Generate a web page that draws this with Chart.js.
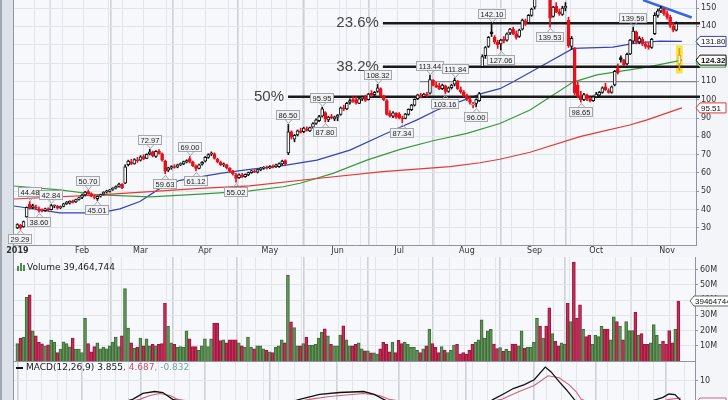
<!DOCTYPE html>
<html>
<head>
<meta charset="utf-8">
<script src="https://cdn.jsdelivr.net/npm/chart.js@4.4.1/dist/chart.umd.min.js"></script>
<style>
body{margin:0;width:728px;height:400px;overflow:hidden;position:relative;background:#f3f5f8}
#strip{position:absolute;left:0;top:0;width:14px;height:400px;background:#dde2ea;border-left:2px solid #a0a8b4;border-right:1px solid #8d96a3;box-sizing:border-box}
canvas{position:absolute;left:0}
#price{top:0}
#vol{top:257px}
#macd{top:362px}
</style>
</head>
<body>
<div id="strip"></div>
<canvas id="price" width="728" height="257"></canvas>
<canvas id="vol" width="728" height="105"></canvas>
<canvas id="macd" width="728" height="60"></canvas>
<script>
// daily bars, x = trading day index (0 = Jan 2 2019) ... [open, high, low, close]
const janBars = [[30.0,32.3,29.6,31.8],[31.5,32.0,29.29,30.0],[30.5,33.8,30.3,33.5],[36.0,41.5,35.8,41.3],[43.0,44.48,40.2,41.0],
  [41.2,43.0,40.5,42.2],[41.5,42.5,40.0,40.8],[40.5,41.5,38.6,39.6],[39.5,40.5,38.8,39.2],[39.5,40.8,39.0,40.5],
  [40.6,41.0,39.3,39.8],[40.0,42.84,39.8,42.2],[42.0,42.6,41.0,42.4],[41.8,42.3,40.3,40.8],[41.0,42.0,40.5,41.7],
  [41.8,43.5,41.5,43.2],[43.3,44.5,42.8,44.0],[43.5,44.8,43.0,44.6],[44.8,45.2,43.6,44.0],[44.2,45.8,44.0,45.5],[45.6,46.8,45.2,46.5]];
const febBars = [[46.6,48.5,46.0,48.0],[48.0,50.0,47.5,49.6],[49.8,50.70,48.3,48.6],[48.5,49.2,47.0,47.4],[47.0,47.8,45.8,46.6],
  [46.0,47.5,45.01,47.2],[47.3,48.5,46.8,48.2],[48.5,49.8,48.0,49.5],[49.6,50.6,49.0,50.2],[50.0,51.0,49.5,50.8],
  [51.0,52.0,50.5,51.7],[51.8,53.0,51.3,52.6],[52.7,54.5,52.3,54.0],[53.8,54.2,51.5,52.0],[54.5,64.5,54.2,63.3],
  [64.5,67.0,63.8,66.5],[66.0,67.5,64.5,65.2],[65.0,67.8,64.8,67.3],[67.0,68.5,65.8,66.6]];
const marBars = [[67.0,69.5,66.5,68.8],[69.0,70.0,67.2,67.8],[68.0,70.5,67.8,70.2],[70.5,72.97,69.8,71.5],[71.5,72.0,68.8,69.5],
  [69.0,72.2,68.5,71.8],[72.0,72.8,70.2,70.5],[70.5,71.0,66.5,67.0],[66.5,67.0,59.63,61.0],[61.5,63.2,60.8,62.8],
  [62.8,64.0,62.0,63.5],[63.5,64.5,62.6,63.0],[63.2,64.8,62.8,64.5],[64.6,65.5,64.0,65.0],[65.0,66.5,64.5,66.2],
  [66.0,67.2,65.5,66.8],[67.8,69.0,65.5,66.0],[66.0,66.5,63.5,64.0],[63.8,64.5,61.12,62.5],[62.5,64.8,62.2,64.5],[64.8,66.2,64.2,65.8]];
const aprBars = [[66.5,69.0,66.0,68.5],[68.5,70.5,68.0,70.0],[70.2,71.5,69.5,70.8],[70.5,71.0,67.5,68.0],[67.5,68.0,65.5,66.0],
  [66.0,66.5,64.0,64.6],[64.5,65.5,63.5,65.0],[64.5,64.8,62.2,62.8],[62.5,63.0,60.5,61.0],[61.0,61.5,58.8,59.5],
  [59.0,59.8,55.02,57.0],[57.5,59.5,57.0,59.0],[59.0,59.8,57.5,58.0],[58.0,59.5,57.6,59.2],[59.0,60.5,58.5,60.2],
  [60.2,61.5,59.8,61.2],[61.0,61.8,60.2,60.5],[60.5,62.0,60.0,61.8],[61.8,63.0,61.2,62.6],[62.6,63.5,62.0,63.0],[63.0,63.8,62.2,62.6]];
const mayBars = [[62.8,64.0,62.3,63.5],[63.5,64.5,62.8,63.2],[63.3,64.8,63.0,64.4],[63.5,65.5,63.0,65.2],[65.0,67.0,64.2,66.5],
  [66.8,67.2,64.5,65.0],[71.0,86.5,70.0,82.5],[82.5,83.0,78.5,79.5],[78.5,81.0,77.0,80.5],[80.8,83.5,80.2,83.0],
  [83.0,84.5,81.8,82.2],[82.5,85.0,82.0,84.5],[84.0,85.2,82.8,83.2],[83.0,85.0,82.5,84.8],[85.0,87.5,84.5,87.0],
  [87.0,89.5,86.5,89.0],[88.5,91.5,88.0,90.8],[91.0,95.95,90.5,95.0],[93.0,93.5,87.8,89.5],[89.0,91.0,88.0,90.5],
  [90.8,92.0,89.5,90.0],[89.5,91.0,88.5,90.6]];
const junBars = [[90.5,92.0,88.5,91.5],[92.0,96.0,91.5,95.5],[95.5,97.0,94.0,95.0],[95.0,98.5,94.5,98.0],[98.5,100.5,97.5,99.5],
  [100.0,101.5,98.5,99.0],[100.0,101.5,97.5,98.2],[98.0,101.0,97.8,100.5],[100.5,102.0,99.5,101.5],[101.5,102.5,99.0,99.6],
  [100.0,103.5,99.8,103.0],[103.5,105.0,101.5,102.5],[102.8,104.5,101.5,104.0],[104.5,108.32,104.0,106.5],[106.0,106.5,101.5,102.0],
  [102.0,102.5,99.5,100.0],[99.5,100.0,91.5,92.0],[92.5,94.0,90.5,91.0],[91.0,93.5,90.2,92.8],[92.5,93.0,89.8,90.5]];
const julBars = [[92.0,93.0,89.5,90.0],[90.0,91.0,87.34,89.5],[89.8,92.5,89.5,92.2],[92.0,95.0,91.5,94.8],[94.5,97.5,94.0,97.0],
  [97.0,100.5,96.5,100.2],[100.5,103.0,100.0,102.6],[102.5,103.5,101.0,101.6],[101.8,103.5,101.5,103.0],[103.0,104.0,101.8,102.3],
  [103.5,113.44,103.0,111.0],[110.5,111.0,107.5,108.0],[108.0,109.5,106.5,107.0],[107.5,109.0,105.5,106.0],[106.0,108.5,105.5,108.0],
  [107.5,108.0,103.16,104.5],[104.5,107.0,104.0,106.5],[106.5,108.5,105.8,108.0],[108.5,111.84,107.5,110.5],[110.0,110.5,105.5,106.0],
  [105.5,107.0,103.5,104.2],[104.0,105.0,101.5,102.0]];
const augBars = [[102.0,103.0,99.5,100.5],[100.0,101.5,97.5,98.5],[97.0,98.5,95.5,97.5],[98.0,100.5,96.0,100.0],[99.5,104.0,99.0,103.3],
  [118.0,124.5,117.5,123.5],[124.0,129.0,122.5,128.5],[129.0,134.5,128.5,134.0],[137.0,142.1,134.5,136.0],[134.0,135.0,130.5,131.5],
  [131.5,132.5,128.0,130.0],[130.5,133.0,127.06,132.5],[133.0,134.5,131.0,132.0],[132.5,136.5,132.0,136.0],[136.5,139.0,135.5,138.5],
  [138.5,139.5,135.5,136.0],[136.0,137.5,133.0,134.0],[134.5,138.5,134.0,138.0],[138.5,144.0,138.0,143.5],[143.0,144.0,140.5,141.5],
  [142.0,146.5,141.5,146.0],[146.0,150.0,145.5,149.5]];
const sepBars = [[150.5,156.0,149.5,155.0],[156.0,166.0,155.0,164.0],[165.0,175.0,160.0,161.0],[160.0,168.0,158.0,166.0],[165.0,166.0,156.0,158.0],
  [157.0,158.0,139.53,144.5],[145.5,151.0,145.0,150.5],[151.0,153.0,147.5,148.0],[148.0,149.5,146.0,147.0],[146.5,151.0,146.0,150.0],
  [150.0,153.0,148.5,151.0],[143.5,145.0,128.5,129.5],[129.0,134.5,127.5,133.5],[127.5,128.5,102.5,103.5],[108.0,109.5,101.0,102.0],
  [102.0,104.5,98.65,100.0],[100.0,103.5,99.5,102.8],[102.5,103.0,99.5,100.5],[100.5,101.5,98.8,99.5],[99.5,102.0,99.0,101.5]];
const octBars = [[101.5,104.0,101.0,103.0],[102.5,104.5,101.5,104.0],[104.0,107.0,103.5,106.5],[107.0,109.0,105.0,105.5],[105.0,106.0,103.5,104.0],
  [104.0,107.5,103.5,107.0],[108.0,116.0,107.5,115.5],[117.0,119.5,114.0,114.8],[123.0,124.0,120.5,121.8],[121.5,122.0,118.5,119.0],
  [119.5,125.5,119.0,124.8],[125.0,133.0,124.5,132.5],[132.0,139.59,131.0,137.5],[137.0,137.5,130.5,131.5],[131.5,134.5,130.5,133.5],
  [133.0,134.0,129.5,130.5],[130.5,131.5,128.0,129.0],[129.5,131.0,127.5,128.5],[128.5,133.5,128.0,133.0],[136.0,147.5,135.5,146.0],
  [146.0,149.5,145.0,148.5],[148.5,151.0,147.5,150.0],[149.5,150.0,146.0,147.0]];
const novBars = [[147.0,148.5,144.0,145.0],[145.0,146.0,139.5,140.5],[140.0,142.0,137.0,138.0],[138.0,142.5,137.5,141.5],[119.5,128.0,116.0,124.32]];

// volume, millions
const volumes = [
  11.5,15,15.5,41.8,43.5,19.9,16.6,12.2,11.3,10,10.7,13.7,12.2,5.6,7.8,12.6,11.5,9.3,15,7.8,7.8,
  5.5,28,11.5,6,9.5,12,8,9,8,10,12.5,15.7,9.5,16.6,47.7,21.6,12,8.3,9,
  15,10,14.6,10,11,10,11,11.5,38,23,12,11,9,9.5,9,19.9,14.6,9.5,9.5,7,10,
  14.6,9.5,14.6,24.8,24.8,13.5,13.9,12,13.9,13.9,14,12,10,9,15.7,9,8,10,10,8,7,
  6,5.5,9,10,14,12,56.5,25.8,22,10,10,11.5,15.5,10.5,10.5,11,15,18.8,21.2,16.6,11,10,
  10,17,23.2,14,10,10,11,12,8,6.7,6.7,5.4,5.4,4.5,8,12.2,11,6,12.5,5.5,
  13.6,11.5,12.5,11,9,9,7,5.5,8,10,21,11.5,9,5.5,9.5,7,5.5,7,10.5,11,4.5,5.5,
  4.5,7,11,12.5,14,27,15,19.9,20.8,11.1,8.2,8.9,6.3,7.8,6.3,11.1,11.1,10,19.9,8.5,9,9,
  12.5,28,23,15,23,35,18,13,10,12,11,38,26,65,28,37,21,16,17,11,
  17,16,23,21,21,14,29,26,23,14,26,20,20,32,17,18,11,11,12,24,17,11,13,
  11,20,12,21,39.464744];

// moving averages at sample days
const ma50X = [-1.1,13.8,26.8,33.3,39.8,46.3,52.8,65.8,75.5,86.3,97.3,108,118.7,124.3,129.8,136.3,151.2,156.7,160.9,172,180.5,193.4,201.2,208.7,215.8];
const ma50Y = [42,38.2,38.2,40.4,44.4,51.6,56,59.8,62,64,67,72.5,80.7,85,89,94.4,103.6,106,109.6,120,128,128.7,131,132,131.8];
const ma100X = [-1.1,13.8,26.8,43.1,59.3,75.5,86.3,91.8,102.5,113.5,124.3,135,146,156.7,166.5,180.5,188.2,204.5,215.8];
const ma100Y = [52.9,50.8,48,47,48.5,50.2,52.5,54.4,59.8,67,72.9,77.6,81.6,87,94.4,109.6,113.5,117.8,121.6];
const ma200X = [-1.1,26.8,43.1,59.3,75.5,97.3,118.7,140.5,150.2,156.7,166.5,182.7,188.2,198.9,204.5,215.8];
const ma200Y = [45.8,48,49.8,51.6,53,57,60.7,63.5,65.6,67.5,71.3,79.8,82,86.2,89,95.51];

// retracement levels and their start day
const fibLabels = ['23.6%', '38.2%', '50%'];
const fibLevels = [141.7, 118.0, 101.6];
const fibStart = [118.7, 118.7, 87.9];
const midLevel = 109.8, midStart = 130.7;
const trendX = [203.2, 219.0], trendY = [154.4, 144.85];

// price labels: bar index, h = above high, l = below low
const annoIdx = [1,4,7,11,23,26,43,48,56,58,71,88,99,100,117,125,134,139,142,149,154,157,173,183,200];
const annoSide = ['l','h','l','h','h','l','h','l','h','l','l','h','h','l','h','l','h','l','h','l','h','l','l','l','h'];

// MACD(12,26,9)
const macdX = [-1.1,13.8,26.8,33.3,37.5,40.8,44.7,47.3,50.5,59.3,72.3,82,91.8,98.3,104.8,112.6,116.1,119.1,124.3,134,143.7,150.2,154.8,158.4,161.3,164.9,168.1,171.7,173.6,176.2,178.5,181.1,186,192.5,199,205.4,210,211.9,213.9,215.8];
const macdY = [-1,1,2,3.2,4.24,6.06,6.67,6.36,4.24,2.5,0.3,1.5,4.24,5.76,6.36,6.67,5.76,4.24,2,1.8,2.2,1.5,4.24,6.06,7.58,8.8,10.3,14.2,12.7,9.7,7.3,4.24,0,-0.5,1.5,3.5,4.85,5.9,5.7,3.855];
const signalX = [-1.1,13.8,26.8,39.8,43.1,46.3,49.6,52.2,65.8,78.8,95,101.5,112.6,117.8,121,134,147,157.4,163.2,168.1,172.6,176.2,179.4,181.7,183.4,192.5,202.2,211.9,215.8];
const signalY = [-0.5,0.2,1.2,4.24,5.45,6.06,5.45,4.24,2,1,4.24,5.15,6.06,5.45,4.24,2.2,2,4.24,6.67,8.5,11.5,10.9,8.8,6.67,4.24,1,1.5,4.24,4.687];

const monthStarts = [0,21,40,61,82,104,124,146,168,188,211];
const monthNames = ['2019','Feb','Mar','Apr','May','Jun','Jul','Aug','Sep','Oct','Nov'];
const weekStarts = [3,8,13,16,27,32,36,46,51,56,66,71,75,80,85,90,95,100,109,114,119,128,133,138,143,148,153,158,163,172,177,182,192,197,202,207,217];
const priceTicks = [30,40,50,60,70,80,90,100,110,120,130,140,150];
const volTicks = [10,20,30,40,50,60];

const bars = [].concat(janBars, febBars, marBars, aprBars, mayBars, junBars, julBars, augBars, sepBars, octBars, novBars);
const opens = bars.map(b => b[0]), highs = bars.map(b => b[1]), lows = bars.map(b => b[2]), closes = bars.map(b => b[3]);
const last = bars.length - 1;
const isDown = closes.map((c, i) => i > 0 && c < closes[i - 1]);
const candleCol = isDown.map((d, i) => i === last ? '#e39b12' : (d ? '#e8101c' : '#111'));

const X_MIN = -1.1, X_MAX = 220.4;
const FONT = '"DejaVu Sans", Verdana, sans-serif';
const TAGFONT = '"Liberation Sans", Arial, sans-serif';
const xGrid = monthStarts.concat(weekStarts);

function xScale(showLabels) {
  return {
    type: 'linear', min: X_MIN, max: X_MAX, offset: false,
    afterBuildTicks: s => { s.ticks = xGrid.map(v => ({ value: v })); },
    afterFit: s => { s.height = showLabels ? 12 : 1; s.paddingLeft = 0; s.paddingRight = 0; },
    grid: {
      color: c => monthStarts.includes(c.tick && c.tick.value) ? '#cdd1d8' : '#e2e5ea',
      lineWidth: c => monthStarts.includes(c.tick && c.tick.value) ? 1.6 : 1,
      drawTicks: false
    },
    border: { color: '#8e959f' },
    ticks: {
      display: showLabels, autoSkip: false, maxRotation: 0, padding: 1, color: '#333',
      font: c => ({ family: FONT, size: 8, weight: c.tick && c.tick.value === 0 ? 'bold' : 'normal' }),
      callback: v => { const k = monthStarts.indexOf(v); return k >= 0 ? monthNames[k] : ''; }
    }
  };
}

function yScale(min, max, ticks, width, fmt) {
  return {
    position: 'right', min: min, max: max,
    afterBuildTicks: s => { s.ticks = ticks.map(v => ({ value: v })); },
    afterFit: s => { s.width = width; s.paddingTop = 0; s.paddingBottom = 0; },
    grid: { color: '#e2e5ea', tickLength: 3, tickColor: '#8e959f' },
    border: { color: '#8e959f' },
    ticks: { padding: 2, color: '#333', font: { family: FONT, size: 8 }, callback: fmt || (v => v) }
  };
}

const plotBg = {
  id: 'plotBg',
  beforeDraw(chart) {
    const a = chart.chartArea, ctx = chart.ctx;
    ctx.save(); ctx.fillStyle = '#f7f8fb'; ctx.fillRect(a.left, a.top, a.right - a.left, a.bottom - a.top); ctx.restore();
  }
};

function drawTag(ctx, x0, y, text, color, bold, width) {
  const h = 10, w = width || 30;
  ctx.beginPath();
  ctx.moveTo(x0, y); ctx.lineTo(x0 + 4, y - h / 2); ctx.lineTo(x0 + w, y - h / 2);
  ctx.lineTo(x0 + w, y + h / 2); ctx.lineTo(x0 + 4, y + h / 2); ctx.closePath();
  ctx.fillStyle = '#ffffff'; ctx.fill();
  ctx.strokeStyle = color; ctx.lineWidth = 1; ctx.stroke();
  ctx.fillStyle = '#111';
  ctx.font = (bold ? 'bold ' : '') + '8px ' + TAGFONT;
  ctx.textAlign = 'left'; ctx.textBaseline = 'middle';
  ctx.fillText(text, x0 + 5, y + 0.5);
}

const priceDecor = {
  id: 'priceDecor',
  afterDatasetsDraw(chart) {
    const ctx = chart.ctx, x = chart.scales.x, y = chart.scales.y;
    ctx.save();
    // retracement captions
    ctx.font = '15px "Liberation Sans", Arial, sans-serif';
    ctx.fillStyle = '#444'; ctx.textAlign = 'right'; ctx.textBaseline = 'middle';
    fibLabels.forEach((t, k) => ctx.fillText(t, x.getPixelForValue(fibStart[k]) - 4, y.getPixelForValue(fibLevels[k])));
    // high / low value boxes
    ctx.font = '7.5px ' + TAGFONT;
    ctx.textAlign = 'center';
    annoIdx.forEach((i, k) => {
      const up = annoSide[k] === 'h';
      const v = up ? highs[i] : lows[i];
      const txt = v.toFixed(2);
      const px = Math.round(x.getPixelForValue(i)), py = y.getPixelForValue(v);
      const w = Math.ceil(ctx.measureText(txt).width) + 4, h = 9;
      const by = Math.round(up ? py - 5 - h : py + 5);
      const bx = px - Math.round(w / 2);
      ctx.fillStyle = '#f1f2f4'; ctx.fillRect(bx + 0.5, by + 0.5, w, h);
      ctx.strokeStyle = '#a3a6ab'; ctx.lineWidth = 1; ctx.strokeRect(bx + 0.5, by + 0.5, w, h);
      ctx.beginPath();
      const ey = up ? by + h + 0.5 : by + 0.5, ty = up ? ey + 4 : ey - 4;
      ctx.moveTo(px - 3, ey); ctx.lineTo(px + 0.5, ty); ctx.lineTo(px + 4, ey);
      ctx.stroke();
      ctx.fillStyle = '#222'; ctx.fillText(txt, bx + w / 2 + 0.5, by + h / 2 + 1);
    });
    ctx.restore();
  },
  afterDraw(chart) {
    const ctx = chart.ctx, y = chart.scales.y, x0 = chart.chartArea.right;
    ctx.save();
    drawTag(ctx, x0, y.getPixelForValue(ma100Y[ma100Y.length - 1]) + 2, ma100Y[ma100Y.length - 1].toFixed(2), '#3a9a3a');
    drawTag(ctx, x0, y.getPixelForValue(ma50Y[ma50Y.length - 1]), ma50Y[ma50Y.length - 1].toFixed(2), '#3343b8');
    drawTag(ctx, x0, y.getPixelForValue(ma200Y[ma200Y.length - 1]), ma200Y[ma200Y.length - 1].toFixed(2), '#e03a3a');
    drawTag(ctx, x0, y.getPixelForValue(closes[last]) + 5, closes[last].toFixed(2), '#111', true);
    ctx.restore();
  }
};

const pts = (xs, ys) => xs.map((v, i) => ({ x: v, y: ys[i] }));
const lineSet = (data, color, width, order) => ({
  type: 'line', data: data, borderColor: color, borderWidth: width, pointRadius: 0, tension: 0, order: order
});

const priceSets = [
  { type: 'bar', data: [{ x: last, y: [lows[last] - 1.5, highs[last] + 1.5] }], backgroundColor: '#f7e547', barThickness: 6, grouped: false, order: 9 },
  lineSet(pts(ma200X, ma200Y), '#e53935', 1.2, 8),
  lineSet(pts(ma100X, ma100Y), '#3a9a3a', 1.2, 8),
  lineSet(pts(ma50X, ma50Y), '#3343b8', 1.2, 8),
  lineSet([{ x: midStart, y: midLevel }, { x: 221.7, y: midLevel }], '#6b6b6b', 1, 7),
  ...fibLevels.map((lv, k) => Object.assign(lineSet([{ x: fibStart[k], y: lv }, { x: 221.7, y: lv }], '#1a1a1a', 2.6, 7), { clip: false })),
  lineSet(pts(trendX, trendY), '#3b63e6', 2.4, 6),
  { type: 'bar', data: bars.map((b, i) => ({ x: i, y: [b[2], b[1]] })), backgroundColor: candleCol, barThickness: 1, grouped: false, order: 2 },
  { type: 'bar', data: bars.map((b, i) => ({ x: i, y: [b[0], b[3]] })),
    backgroundColor: bars.map((b, i) => b[3] >= b[0] ? '#ffffff' : candleCol[i]),
    borderColor: candleCol, borderWidth: 1, borderSkipped: false, minBarLength: 1, barThickness: 3, grouped: false, order: 1 }
];

new Chart(document.getElementById('price'), {
  type: 'bar',
  data: { datasets: priceSets },
  options: {
    responsive: false, animation: false, events: [],
    layout: { padding: { left: 14, top: 0, right: 0, bottom: 0 } },
    plugins: { legend: { display: false }, tooltip: { enabled: false } },
    scales: { x: xScale(true), y: yScale(20.7, 154.4, priceTicks, 32) }
  },
  plugins: [plotBg, priceDecor]
});

// volume panel
const volDecor = {
  id: 'volDecor',
  afterDraw(chart) {
    const ctx = chart.ctx, y = chart.scales.y, a = chart.chartArea;
    const lastVol = Math.round(volumes[last] * 1e6);
    ctx.save();
    ctx.fillStyle = '#4f8a46';
    ctx.fillRect(17, 9, 2, 5); ctx.fillRect(20, 6, 2, 8); ctx.fillRect(23, 8, 2, 6);
    ctx.font = '9px ' + FONT; ctx.fillStyle = '#222'; ctx.textAlign = 'left'; ctx.textBaseline = 'middle';
    ctx.fillText('Volume ' + lastVol.toLocaleString('en-US'), 27, 11);
    drawTag(ctx, a.right - 5, y.getPixelForValue(volumes[last]), String(lastVol), '#666', false, 40);
    ctx.restore();
  }
};

new Chart(document.getElementById('vol'), {
  type: 'bar',
  data: { datasets: [{
    data: volumes.map((v, i) => ({ x: i, y: v })),
    backgroundColor: isDown.map(d => d ? 'rgba(196,40,82,0.85)' : 'rgba(98,145,88,0.9)'),
    borderColor: isDown.map(d => d ? '#9c1740' : '#3f6d38'),
    borderWidth: 1, borderSkipped: 'bottom', barThickness: 3
  }] },
  options: {
    responsive: false, animation: false, events: [],
    layout: { padding: { left: 14, top: 0, right: 0, bottom: 0 } },
    plugins: { legend: { display: false }, tooltip: { enabled: false } },
    scales: { x: xScale(false), y: yScale(0, 68.4, volTicks, 33, v => v + 'M') }
  },
  plugins: [plotBg, volDecor]
});

// MACD panel
const macdDecor = {
  id: 'macdDecor',
  afterDraw(chart) {
    const ctx = chart.ctx, a = chart.chartArea;
    ctx.save();
    ctx.fillStyle = '#111'; ctx.fillRect(16, 5, 7, 2);
    ctx.font = '9px ' + FONT; ctx.textAlign = 'left'; ctx.textBaseline = 'middle';
    let px = 26;
    const parts = [['MACD(12,26,9) ' + macdY[macdY.length - 1].toFixed(3), '#222'], [', ' + signalY[signalY.length - 1].toFixed(3), '#c8506e'],
      [', ' + (macdY[macdY.length - 1] - signalY[signalY.length - 1]).toFixed(3), '#6fa8a0']];
    parts.forEach(p => { ctx.fillStyle = p[1]; ctx.fillText(p[0], px, 6); px += ctx.measureText(p[0]).width; });
    drawTag(ctx, a.right + 1, 41, signalY[signalY.length - 1].toFixed(3), '#d0607a');
    ctx.restore();
  }
};

new Chart(document.getElementById('macd'), {
  type: 'line',
  data: { datasets: [
    lineSet(pts(signalX, signalY), '#d0607a', 1.1, 2),
    lineSet(pts(macdX, macdY), '#111', 1.3, 1)
  ] },
  options: {
    responsive: false, animation: false, events: [],
    layout: { padding: { left: 14, top: 0, right: 0, bottom: 0 } },
    plugins: { legend: { display: false }, tooltip: { enabled: false } },
    scales: { x: xScale(false), y: yScale(-2.42, 15.76, [0, 10], 33) }
  },
  plugins: [plotBg, macdDecor]
});
</script>
</body>
</html>
